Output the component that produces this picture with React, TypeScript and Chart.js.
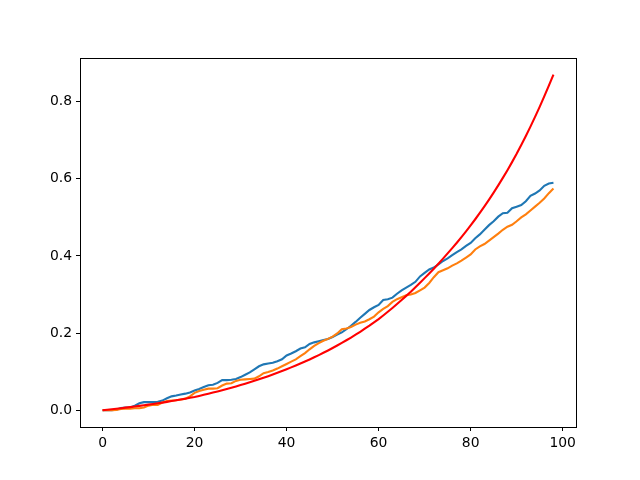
import React, { useEffect, useRef } from "react";
import { Chart, registerables } from "chart.js";

Chart.register(...registerables);

const blueValues = [
  0, 0, 0, 0.001, 0.006, 0.007, 0.007, 0.012, 0.018, 0.021,
  0.021, 0.021, 0.022, 0.025, 0.031, 0.036, 0.038, 0.041, 0.043, 0.046,
  0.051, 0.055, 0.06, 0.065, 0.066, 0.071, 0.078, 0.078, 0.079, 0.081,
  0.086, 0.092, 0.098, 0.106, 0.114, 0.119, 0.121, 0.123, 0.127, 0.132,
  0.142, 0.147, 0.153, 0.16, 0.163, 0.172, 0.176, 0.179, 0.182, 0.185,
  0.19, 0.196, 0.202, 0.21, 0.219, 0.229, 0.24, 0.25, 0.26, 0.267,
  0.273, 0.286, 0.288, 0.292, 0.302, 0.311, 0.318, 0.325, 0.333, 0.347,
  0.356, 0.365, 0.37, 0.378, 0.387, 0.394, 0.402, 0.41, 0.417, 0.426,
  0.434, 0.446, 0.456, 0.468, 0.48, 0.49, 0.502, 0.511, 0.512, 0.524,
  0.528, 0.532, 0.542, 0.556, 0.562, 0.57, 0.582, 0.588, 0.59,
];

const orangeValues = [
  0, 0, 0, 0.001, 0.003, 0.004, 0.004, 0.005, 0.005, 0.007,
  0.012, 0.014, 0.014, 0.02, 0.024, 0.025, 0.026, 0.028, 0.03, 0.036,
  0.045, 0.05, 0.053, 0.056, 0.056, 0.057, 0.064, 0.069, 0.07, 0.076,
  0.079, 0.08, 0.081, 0.082, 0.088, 0.096, 0.099, 0.103, 0.108, 0.114,
  0.12, 0.126, 0.132, 0.14, 0.148, 0.158, 0.167, 0.174, 0.18, 0.185,
  0.191, 0.199, 0.21, 0.212, 0.216, 0.222, 0.227, 0.23, 0.236, 0.243,
  0.254, 0.263, 0.27, 0.281, 0.288, 0.293, 0.298, 0.3, 0.304, 0.311,
  0.318, 0.33, 0.345, 0.358, 0.363, 0.368, 0.375, 0.381, 0.388, 0.396,
  0.404, 0.417, 0.425, 0.431, 0.44, 0.449, 0.458, 0.468, 0.476, 0.481,
  0.49, 0.5, 0.508, 0.518, 0.528, 0.538, 0.549, 0.563, 0.575,
];

const redValues = [
  0, 0.0012, 0.0025, 0.0039, 0.0052, 0.0067, 0.0081, 0.0096, 0.0112, 0.0128,
  0.0145, 0.0162, 0.018, 0.0198, 0.0217, 0.0237, 0.0257, 0.0278, 0.0299, 0.0322,
  0.0345, 0.0371, 0.0399, 0.0427, 0.0457, 0.0487, 0.0518, 0.055, 0.0583, 0.0617,
  0.0652, 0.0687, 0.0724, 0.0762, 0.0802, 0.0842, 0.0884, 0.0927, 0.0971, 0.1017,
  0.1064, 0.1111, 0.116, 0.1211, 0.1263, 0.1317, 0.1373, 0.143, 0.1489, 0.155,
  0.1613, 0.1678, 0.1745, 0.1814, 0.1885, 0.1959, 0.2035, 0.2114, 0.2194, 0.2278,
  0.2364, 0.2457, 0.2553, 0.2652, 0.2754, 0.2859, 0.2966, 0.3075, 0.3189, 0.3305,
  0.3426, 0.3546, 0.367, 0.3799, 0.3931, 0.4068, 0.4204, 0.4344, 0.4489, 0.4639,
  0.4794, 0.4953, 0.5117, 0.5286, 0.5462, 0.5643, 0.5831, 0.6025, 0.6226, 0.6434,
  0.6649, 0.6876, 0.7112, 0.7356, 0.7607, 0.7867, 0.8138, 0.8418, 0.8706,
];

const xTicks = [0, 20, 40, 60, 80, 100];
const yTicks = [0, 0.2, 0.4, 0.6, 0.8];

const toPoints = (vals: number[]) => vals.map((v, i) => ({ x: i, y: v }));

const framePlugin = {
  id: "frame",
  afterDraw(chart: any) {
    const { ctx, chartArea } = chart;
    ctx.save();
    ctx.strokeStyle = "#000";
    ctx.lineWidth = 1;
    ctx.strokeRect(
      Math.round(chartArea.left) + 0.5,
      Math.round(chartArea.top) + 0.5,
      Math.round(chartArea.right - chartArea.left),
      Math.round(chartArea.bottom - chartArea.top)
    );
    ctx.restore();
  },
};

export default function App() {
  const ref = useRef<HTMLCanvasElement | null>(null);

  useEffect(() => {
    document.body.style.margin = "0";
    const canvas = ref.current;
    if (!canvas) return;
    const font = { family: "'DejaVu Sans', sans-serif", size: 13.9 };
    const chart = new Chart(canvas, {
      type: "line",
      data: {
        datasets: [
          {
            data: toPoints(blueValues),
            borderColor: "#1f77b4",
            borderWidth: 2.1,
            pointRadius: 0,
            tension: 0,
            order: 2,
          },
          {
            data: toPoints(orangeValues),
            borderColor: "#ff7f0e",
            borderWidth: 2.1,
            pointRadius: 0,
            tension: 0,
            order: 1,
          },
          {
            data: toPoints(redValues),
            borderColor: "#ff0000",
            borderWidth: 2.1,
            pointRadius: 0,
            tension: 0,
            order: 0,
          },
        ],
      },
      options: {
        responsive: false,
        animation: false,
        events: [],
        layout: { padding: { left: 0, top: 58, right: 64, bottom: 0 } },
        plugins: {
          legend: { display: false },
          tooltip: { enabled: false },
          title: { display: false },
        },
        scales: {
          x: {
            type: "linear",
            min: -4.9,
            max: 102.9,
            afterFit: (scale: any) => {
              scale.height = 53;
            },
            afterBuildTicks: (scale: any) => {
              scale.ticks = xTicks.map((v) => ({ value: v }));
            },
            grid: {
              display: true,
              drawOnChartArea: false,
              drawTicks: true,
              tickLength: 4,
              color: "#000",
            },
            border: { display: true, color: "#000", width: 1 },
            ticks: {
              color: "#000",
              font,
              padding: 4,
              maxRotation: 0,
              autoSkip: false,
              callback: (v: any) => String(v),
            },
          },
          y: {
            type: "linear",
            min: -0.0435,
            max: 0.9135,
            afterFit: (scale: any) => {
              scale.width = 80;
            },
            afterBuildTicks: (scale: any) => {
              scale.ticks = yTicks.map((v) => ({ value: v }));
            },
            grid: {
              display: true,
              drawOnChartArea: false,
              drawTicks: true,
              tickLength: 4,
              color: "#000",
            },
            border: { display: true, color: "#000", width: 1 },
            ticks: {
              color: "#000",
              font,
              padding: 4,
              autoSkip: false,
              callback: (v: any) => Number(v).toFixed(1),
            },
          },
        },
      },
      plugins: [framePlugin],
    } as any);
    return () => chart.destroy();
  }, []);

  return (
    <div style={{ position: "absolute", left: 0, top: 0, width: 640, height: 480, background: "#fff" }}>
      <canvas ref={ref} width={640} height={480} style={{ width: 640, height: 480, display: "block" }} />
    </div>
  );
}
